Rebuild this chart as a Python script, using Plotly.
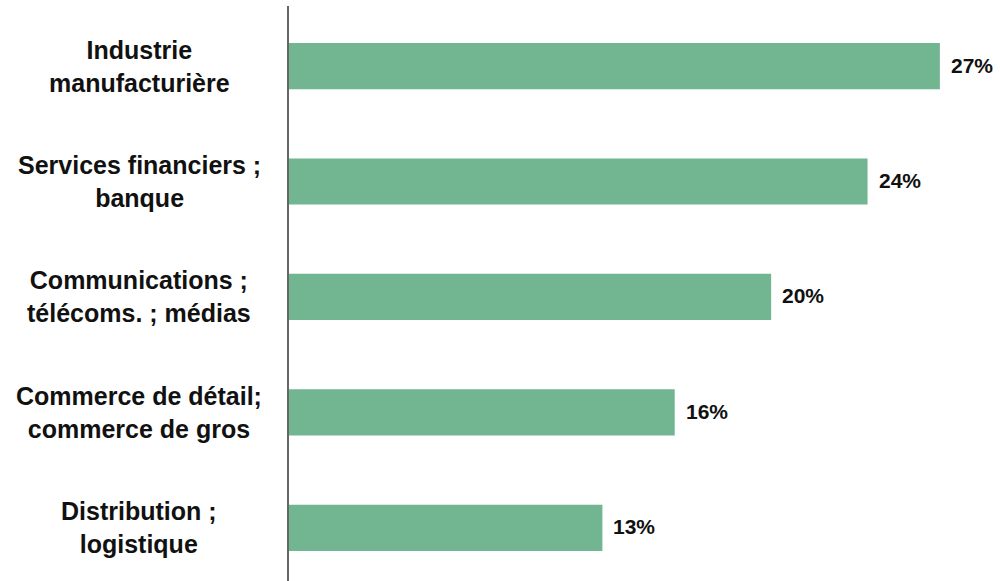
import plotly.graph_objects as go

categories = [
    "Industrie<br>manufacturière",
    "Services financiers ;<br>banque",
    "Communications ;<br>télécoms. ; médias",
    "Commerce de détail;<br>commerce de gros",
    "Distribution ;<br>logistique",
]
values = [27, 24, 20, 16, 13]
value_labels = ["27%", "24%", "20%", "16%", "13%"]

bar_color = "#71B691"
font_family = "Liberation Sans, Arial, sans-serif"

fig = go.Figure(
    go.Bar(
        x=values,
        y=categories,
        orientation="h",
        marker=dict(color=bar_color, line=dict(width=0)),
        width=0.4,
        hoverinfo="skip",
    )
)

annotations = []
for cat, v, lab in zip(categories, values, value_labels):
    annotations.append(dict(
        x=0, xref="paper", y=cat, yref="y",
        text="<b>" + cat + "</b>", showarrow=False,
        xanchor="center", yanchor="middle", align="center",
        xshift=-150,
        font=dict(family=font_family, size=25, color="#111111"),
    ))
    annotations.append(dict(
        x=v, xref="x", y=cat, yref="y",
        text="<b>" + lab + "</b>", showarrow=False,
        xanchor="left", yanchor="middle", xshift=9, yshift=1,
        font=dict(family=font_family, size=21, color="#111111"),
    ))

fig.update_layout(
    width=1000, height=581,
    margin=dict(l=289, r=36, t=6, b=0),
    paper_bgcolor="white", plot_bgcolor="white",
    showlegend=False,
    bargap=0.6,
    xaxis=dict(range=[0, 28], visible=False, fixedrange=True),
    yaxis=dict(
        type="category",
        categoryorder="array", categoryarray=categories,
        range=[4.46, -0.52],
        showticklabels=False, ticks="",
        showgrid=False, zeroline=False,
        showline=True, linecolor="#666666", linewidth=2,
        fixedrange=True,
    ),
    annotations=annotations,
)

fig.write_html("out.html")
